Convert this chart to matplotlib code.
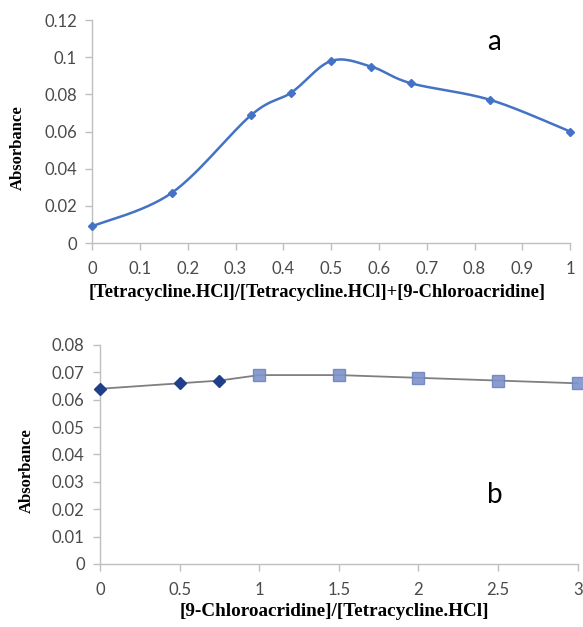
import numpy as np
import matplotlib
matplotlib.use("Agg")
import matplotlib.pyplot as plt

# ---- data ----
a_x = [0, 1/6, 1/3, 5/12, 0.5, 7/12, 2/3, 5/6, 1]
a_y = [0.009, 0.027, 0.069, 0.081, 0.098, 0.095, 0.086, 0.077, 0.060]
a_yticks = [0, 0.02, 0.04, 0.06, 0.08, 0.1, 0.12]
a_yticklabels = ["0", "0.02", "0.04", "0.06", "0.08", "0.1", "0.12"]
a_xticks = [0, 0.1, 0.2, 0.3, 0.4, 0.5, 0.6, 0.7, 0.8, 0.9, 1]
a_xticklabels = ["0", "0.1", "0.2", "0.3", "0.4", "0.5", "0.6", "0.7", "0.8", "0.9", "1"]

b_x1 = [0, 0.5, 0.75]
b_y1 = [0.064, 0.066, 0.067]
b_x2 = [1, 1.5, 2, 2.5, 3]
b_y2 = [0.069, 0.069, 0.068, 0.067, 0.066]
b_yticks = [0, 0.01, 0.02, 0.03, 0.04, 0.05, 0.06, 0.07, 0.08]
b_yticklabels = ["0", "0.01", "0.02", "0.03", "0.04", "0.05", "0.06", "0.07", "0.08"]
b_xticks = [0, 0.5, 1, 1.5, 2, 2.5, 3]
b_xticklabels = ["0", "0.5", "1", "1.5", "2", "2.5", "3"]

TICKFONT = "Lato"
LABELFONT = "Liberation Serif"
AXCOL = "#BFBFBF"
TXTCOL = "#4A4A4A"


def smooth(xs, ys, n=30):
    """Excel-like smoothed line: cubic Bezier with Catmull-Rom control points."""
    xs = np.asarray(xs, float); ys = np.asarray(ys, float)
    P = np.column_stack([xs, ys])
    out = []
    for i in range(len(P) - 1):
        p0 = P[i - 1] if i > 0 else P[i]
        p1 = P[i]; p2 = P[i + 1]
        p3 = P[i + 2] if i + 2 < len(P) else P[i + 1]
        c1 = p1 + (p2 - p0) / 6
        c2 = p2 - (p3 - p1) / 6
        t = np.linspace(0, 1, n)[:, None]
        seg = (1 - t) ** 3 * p1 + 3 * (1 - t) ** 2 * t * c1 + 3 * (1 - t) * t ** 2 * c2 + t ** 3 * p2
        out.append(seg if i == 0 else seg[1:])
    out = np.vstack(out)
    return out[:, 0], out[:, 1]


def style(ax):
    for s in ["top", "right"]:
        ax.spines[s].set_visible(False)
    for s in ["left", "bottom"]:
        ax.spines[s].set_color(AXCOL)
        ax.spines[s].set_linewidth(1.0)
    ax.tick_params(axis="both", direction="out", length=5, width=1.0, color=AXCOL,
                   labelcolor=TXTCOL, labelsize=12)
    ax.tick_params(axis="y", pad=6)
    ax.tick_params(axis="x", pad=8)
    for lab in ax.get_xticklabels() + ax.get_yticklabels():
        lab.set_fontfamily(TICKFONT)


fig = plt.figure(figsize=(5.83, 6.27), dpi=100)

# ---- panel a ----
ax1 = fig.add_axes([0.158, 0.6124, 0.82, 0.3556])
sx, sy = smooth(a_x, a_y)
ax1.plot(sx, sy, color="#4472C4", lw=1.8, zorder=2)
ax1.plot(a_x, a_y, linestyle="none", marker="D", markersize=4.5, color="#4472C4", zorder=3)
ax1.set_xlim(0, 1)
ax1.set_ylim(0, 0.12)
ax1.set_xticks(a_xticks)
ax1.set_xticklabels(a_xticklabels)
ax1.set_yticks(a_yticks)
ax1.set_yticklabels(a_yticklabels)
style(ax1)
ax1.set_ylabel("Absorbance", fontfamily=LABELFONT, fontweight="bold", fontsize=12, color="black")
ax1.yaxis.set_label_coords(-0.155, 0.426)
ax1.yaxis.label.set_va("center")
ax1.set_xlabel("[Tetracycline.HCl]/[Tetracycline.HCl]+[9-Chloroacridine]", fontfamily=LABELFONT,
               fontweight="bold", fontsize=13.3, color="black")
ax1.xaxis.set_label_coords(0.471, -0.224)
ax1.xaxis.label.set_va("center")
ax1.text(0.841, 0.1039, "a", fontfamily="Lato", fontsize=20, color="black",
         transform=ax1.transData, ha="center", va="baseline")

# ---- panel b ----
ax2 = fig.add_axes([0.1715, 0.1005, 0.8195, 0.3493])
bx_all = b_x1 + b_x2
by_all = b_y1 + b_y2
ax2.plot(bx_all, by_all, color="#7F7F7F", lw=1.3, zorder=2)
ax2.plot(b_x1, b_y1, linestyle="none", marker="D", markersize=6, color="#1F3F8A", zorder=3)
ax2.plot(b_x2, b_y2, linestyle="none", marker="s", markersize=9, color="#7E93CB",
         markeredgecolor="#6F84BE", alpha=0.9, zorder=3)
ax2.set_xlim(0, 3)
ax2.set_ylim(0, 0.08)
ax2.set_xticks(b_xticks)
ax2.set_xticklabels(b_xticklabels)
ax2.set_yticks(b_yticks)
ax2.set_yticklabels(b_yticklabels)
style(ax2)
ax2.set_ylabel("Absorbance", fontfamily=LABELFONT, fontweight="bold", fontsize=12, color="black")
ax2.yaxis.set_label_coords(-0.153, 0.425)
ax2.yaxis.label.set_va("center")
ax2.set_xlabel("[9-Chloroacridine]/[Tetracycline.HCl]", fontfamily=LABELFONT,
               fontweight="bold", fontsize=13.8, color="black")
ax2.xaxis.set_label_coords(0.49, -0.219)
ax2.xaxis.label.set_va("center")
ax2.text(2.479, 0.0223, "b", fontfamily="Lato", fontsize=20, color="black",
         transform=ax2.transData, ha="center", va="baseline")
for ln in ax2.lines + ax1.lines:
    ln.set_clip_on(False)

fig.savefig("out.png", dpi=100)
